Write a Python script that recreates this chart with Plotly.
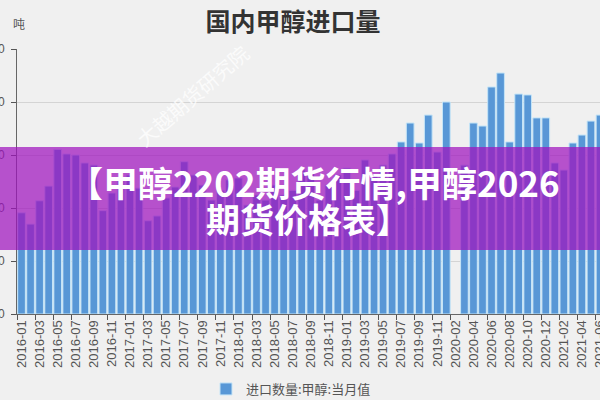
import plotly.graph_objects as go

months = [
    "2016-01", "2016-02", "2016-03", "2016-04", "2016-05", "2016-06",
    "2016-07", "2016-08", "2016-09", "2016-10", "2016-11", "2016-12",
    "2017-01", "2017-02", "2017-03", "2017-04", "2017-05", "2017-06",
    "2017-07", "2017-08", "2017-09", "2017-10", "2017-11", "2017-12",
    "2018-01", "2018-02", "2018-03", "2018-04", "2018-05", "2018-06",
    "2018-07", "2018-08", "2018-09", "2018-10", "2018-11", "2018-12",
    "2019-01", "2019-02", "2019-03", "2019-04", "2019-05", "2019-06",
    "2019-07", "2019-08", "2019-09", "2019-10", "2019-11", "2019-12",
    "2020-02", "2020-03", "2020-04", "2020-05", "2020-06",
    "2020-07", "2020-08", "2020-09", "2020-10", "2020-11", "2020-12",
    "2021-01", "2021-02", "2021-03", "2021-04", "2021-05", "2021-06",
]

imports = [
    57.3, 50.9, 64.1, 72.4, 93.2, 90.6, 90.0, 85.5, 84.3, 58.5, 68.5, 75.8,
    78.7, 71.3, 52.8, 55.5, 65.7, 71.9, 86.2, 78.7, 73.0, 64.5, 70.0, 76.0,
    77.0, 61.7, 67.4, 64.5, 73.0, 67.4, 70.0, 81.5, 80.4, 64.5, 73.0, 78.7,
    82.6, 70.0, 87.2, 78.7, 84.3, 90.6, 97.4, 108.1, 96.8, 112.6, 91.7, 120.0,
    None, 84.3, 108.1, 106.4, 128.5, 136.4, 97.4, 124.5, 124.0, 111.0, 111.0,
    85.5, 81.5, 96.8, 101.3, 109.2, 112.6,
]

y_ticks = [0, 30, 60, 90, 120, 150]
x_ticks = months[::2]

series_name = "进口数量:甲醇:当月值"
title_text = "国内甲醇进口量"
unit_text = "吨"
watermark_text = "大越期货研究院"
banner_line1 = "【甲醇2202期货行情,甲醇2026"
banner_line2 = "期货价格表】"

FONT = "Noto Sans CJK SC"

fig = go.Figure(
    go.Bar(
        x=months,
        y=imports,
        name=series_name,
        marker=dict(color="#5897d6", line=dict(color="#c4e4f7", width=1)),
        showlegend=True,
        hoverinfo="skip",
    )
)

fig.update_layout(
    width=600,
    height=400,
    paper_bgcolor="#f0f0f0",
    plot_bgcolor="#f0f0f0",
    margin=dict(l=17, r=0, t=49, b=86, autoexpand=False),
    font=dict(family=FONT, color="#555555"),
    bargap=0.15,
    title=dict(
        text=title_text,
        x=293 / 600,
        xref="container",
        xanchor="center",
        y=1 - 22 / 400,
        yref="container",
        yanchor="middle",
        font=dict(family=FONT, size=25, color="#333333", weight="bold"),
    ),
    xaxis=dict(
        type="category",
        range=[-0.5, 64.0],
        tickmode="array",
        tickvals=x_ticks,
        ticktext=x_ticks,
        tickangle=-90,
        ticks="outside",
        tickson="boundaries",
        ticklen=5,
        tickcolor="#555555",
        tickfont=dict(family="Liberation Sans", size=13, color="#555555"),
        showline=True,
        linecolor="#666666",
        showgrid=False,
        automargin=False,
    ),
    yaxis=dict(
        range=[0, 150],
        tickmode="array",
        tickvals=y_ticks,
        ticks="outside",
        ticklen=5,
        tickcolor="#555555",
        ticklabelstandoff=4,
        tickfont=dict(family="Liberation Sans", size=12, color="#555555"),
        showline=True,
        linecolor="#666666",
        showgrid=True,
        gridcolor="#d4d4d4",
        zeroline=False,
        automargin=False,
    ),
    legend=dict(
        orientation="h",
        xref="container",
        x=291 / 600,
        xanchor="center",
        yref="container",
        y=11 / 400,
        yanchor="middle",
        font=dict(family=FONT, size=13, color="#555555"),
        bgcolor="rgba(0,0,0,0)",
    ),
)

# Promotional purple band across the chart
fig.add_shape(
    type="rect",
    xref="paper",
    yref="paper",
    x0=-17 / 583,
    x1=1.0,
    y0=(314 - 250) / 265,
    y1=(314 - 147) / 265,
    fillcolor="rgba(160,20,190,0.72)",
    line=dict(width=0),
    layer="above",
)

annotations = [
    dict(
        text=unit_text,
        xref="paper", yref="paper",
        x=(19 - 17) / 583, y=(314 - 23) / 265,
        xanchor="center", yanchor="middle",
        showarrow=False,
        font=dict(family=FONT, size=12, color="#555555"),
    ),
    dict(
        text=watermark_text,
        xref="paper", yref="paper",
        x=(192 - 17) / 583, y=(314 - 95) / 265,
        xanchor="center", yanchor="middle",
        textangle=-41,
        showarrow=False,
        font=dict(family=FONT, size=20, color="rgba(255,255,255,0.75)"),
    ),
    dict(
        text=banner_line1,
        xref="paper", yref="paper",
        x=(314 - 17) / 583, y=(314 - 181) / 265,
        xanchor="center", yanchor="middle",
        showarrow=False,
        font=dict(family=FONT, size=35, color="white", weight="bold"),
    ),
    dict(
        text=banner_line2,
        xref="paper", yref="paper",
        x=(308 - 17) / 583, y=(314 - 218) / 265,
        xanchor="center", yanchor="middle",
        showarrow=False,
        font=dict(family=FONT, size=34, color="white", weight="bold"),
    ),
]
fig.update_layout(annotations=annotations)

fig.write_html(
    "out.html",
    config={"displayModeBar": False},
    post_script="document.body.style.margin='0';document.body.style.padding='0';",
)
